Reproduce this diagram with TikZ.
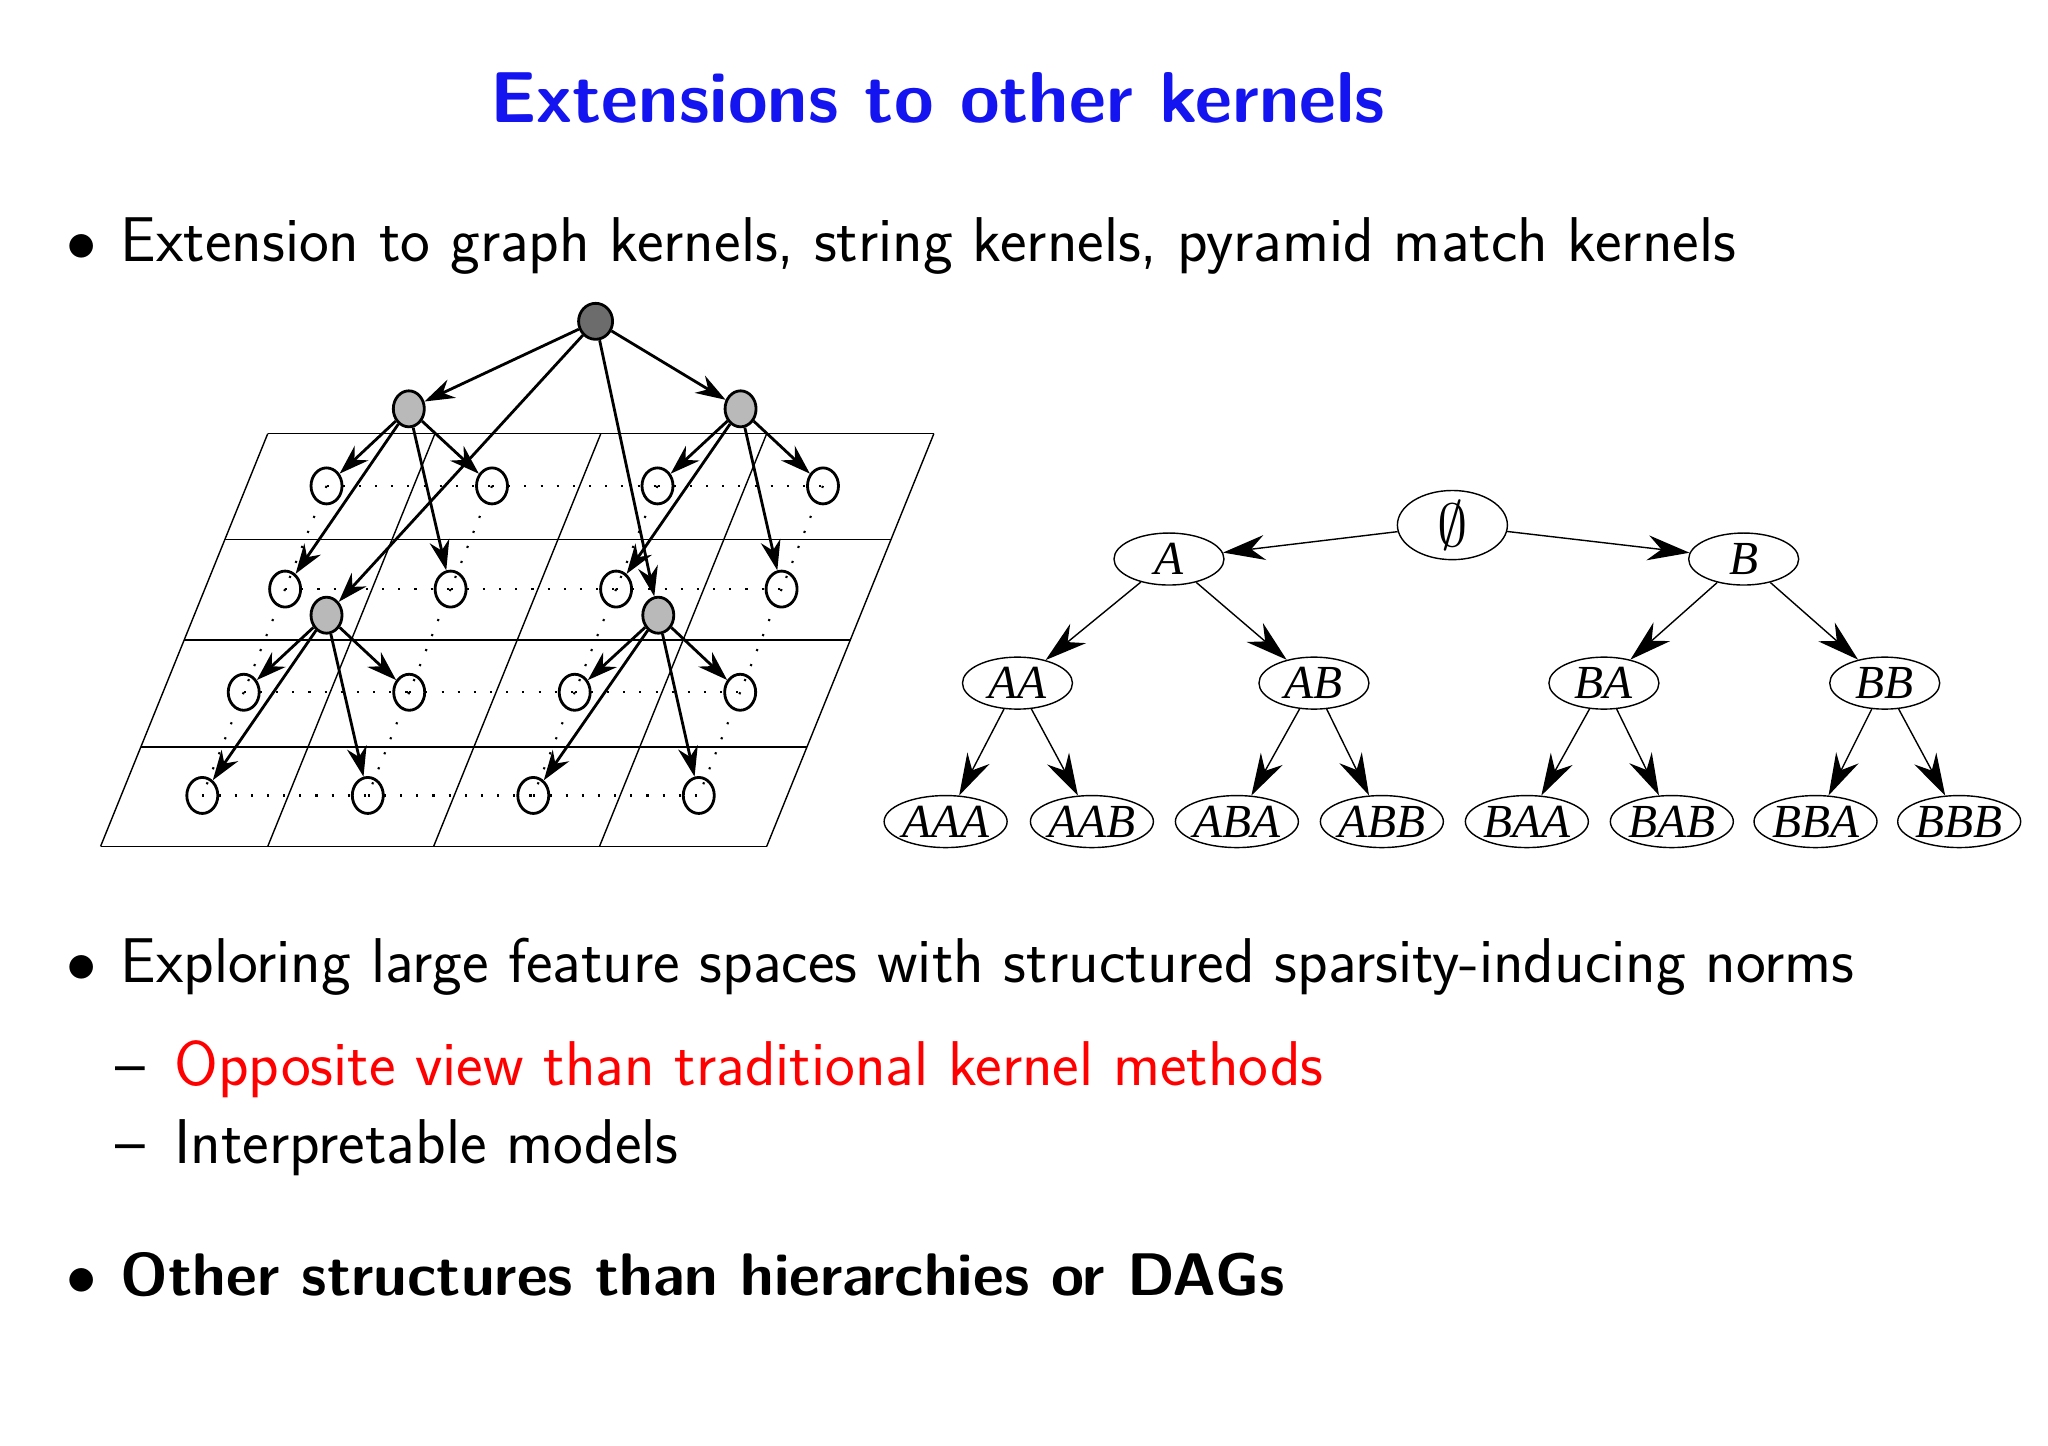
\documentclass[tikz,border=0pt]{standalone}
\usepackage{fontspec}
\newfontfamily\treefont{Liberation Serif}
\usetikzlibrary{shapes.geometric,arrows.meta}
\definecolor{titleblue}{RGB}{20,20,240}
\tikzstyle{cell} = [ellipse, draw=black, thick, fill=white, minimum width=0.31cm, minimum height=0.36cm, inner sep=0pt]
\tikzstyle{hub} = [cell, fill=gray!55]
\tikzstyle{word} = [ellipse, draw=black, fill=white, minimum width=1.1cm, minimum height=0.52cm, inner sep=0pt, font=\treefont\itshape\fontsize{13.5}{13.5}\selectfont]
\tikzstyle{pyr} = [-{Stealth[length=0.3cm,width=0.2cm]}, thick]
\tikzstyle{tre} = [-{Stealth[length=0.42cm,width=0.25cm]}]
\tikzstyle{dots} = [line width=0.6pt, dash pattern=on 0.6pt off 4pt]
\tikzstyle{txt} = [anchor=base west, inner sep=0pt, font=\sffamily\fontsize{18}{18}\selectfont]
\begin{document}
\begin{tikzpicture}[x=0.013061cm, y=-0.013061cm]
\useasboundingbox (0,0) rectangle (1568,1107);
% title and text
\node[anchor=base, inner sep=0pt, text=titleblue, font=\sffamily\bfseries\fontsize{20.5}{20.5}\selectfont] (title) at (718,94) {Extensions to other kernels};
\node[txt] (b1) at (50,200) {$\bullet$};
\node[txt] (t1) at (92,200) {Extension to graph kernels, string kernels, pyramid match kernels};
\node[txt] (b2) at (50,752) {$\bullet$};
\node[txt] (t2) at (92,752) {Exploring large feature spaces with structured sparsity-inducing norms};
\node[txt] (d1) at (88,831) {--};
\node[txt, text=red] (t3) at (133,831) {Opposite view than traditional kernel methods};
\node[txt] (d2) at (88,891) {--};
\node[txt] (t4) at (133,891) {Interpretable models};
\node[txt] (b3) at (50,992) {$\bullet$};
\node[txt, font=\sffamily\bfseries\fontsize{17.1}{17.1}\selectfont] (t5) at (92,992) {Other structures than hierarchies or DAGs};
% pyramid grid
\foreach \y in {332,413,490,572,648}
  \draw ({205-0.405*(\y-332)},\y) -- ({715-0.405*(\y-332)},\y);
\foreach \x in {205,333,460,587,715}
  \draw (\x,332) -- ({\x-128},648);
% cells
\foreach \i in {1,...,4}
  \foreach \j in {1,...,4}
    \node[cell] (c-\i-\j) at ({250-31.7*(\i-1)+126.7*(\j-1)},{372+79*(\i-1)}) {};
\foreach \i in {1,...,4}
  \foreach \j [count=\k from 2] in {1,2,3}
    \draw[dots] (c-\i-\j.center) -- (c-\i-\k.center);
\foreach \i [count=\n from 2] in {1,2,3}
  \foreach \j in {1,...,4}
    \draw[dots] (c-\i-\j.center) -- (c-\n-\j.center);
\node[hub, fill=gray!85!black, minimum width=0.34cm, minimum height=0.36cm] (g0) at (456,246) {};
\node[hub] (g1) at (313,313) {};
\node[hub] (g2) at (567,313) {};
\node[hub] (g3) at (250,471) {};
\node[hub] (g4) at (504,471) {};
\foreach \t in {g1,g2,g3,g4}
  \draw[pyr] (g0) -- (\t);
\foreach \t in {c-1-1,c-1-2,c-2-1,c-2-2} \draw[pyr] (g1) -- (\t);
\foreach \t in {c-1-3,c-1-4,c-2-3,c-2-4} \draw[pyr] (g2) -- (\t);
\foreach \t in {c-3-1,c-3-2,c-4-1,c-4-2} \draw[pyr] (g3) -- (\t);
\foreach \t in {c-3-3,c-3-4,c-4-3,c-4-4} \draw[pyr] (g4) -- (\t);
% string tree
\node[word, font=\fontsize{18}{18}\selectfont] (e) at (1112,402) {$\emptyset$};
\node[word] (A) at (895,428) {A};
\node[word] (B) at (1335,428) {B};
\node[word] (AA) at (779,523) {AA};
\node[word] (AB) at (1006,523) {AB};
\node[word] (BA) at (1228,523) {BA};
\node[word] (BB) at (1443,523) {BB};
\foreach \n/\x in {AAA/724,AAB/836,ABA/947,ABB/1058,BAA/1169,BAB/1280,BBA/1390,BBB/1500}
  \node[word] (\n) at (\x,629) {\n};
\draw[tre] (e) -- (A);
\draw[tre] (e) -- (B);
\foreach \p in {A,B,AA,AB,BA,BB}
  \foreach \q in {A,B}
    \draw[tre] (\p) -- (\p\q);
\end{tikzpicture}
\end{document}
